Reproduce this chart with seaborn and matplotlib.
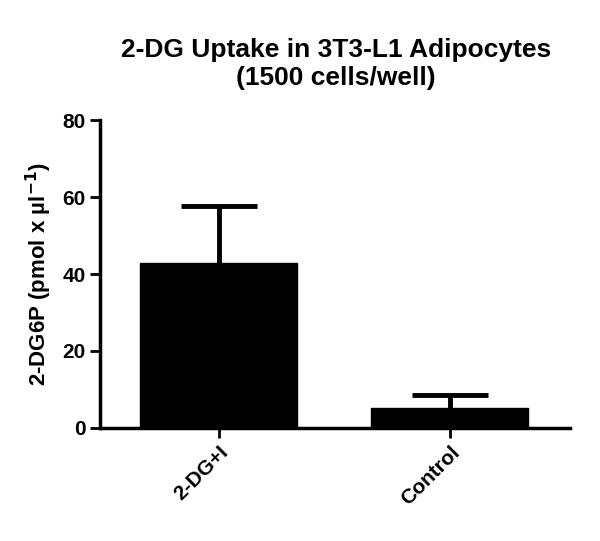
import matplotlib
matplotlib.use("Agg")
import matplotlib.pyplot as plt
import seaborn as sns
import pandas as pd
import numpy as np

categories = ["2-DG+I", "Control"]
means = [42.8, 5.2]
errors = [14.9, 3.4]

sns.set_style("ticks")
plt.rcParams['font.family'] = ['Liberation Sans', 'DejaVu Sans']
for k in ["text.color", "axes.labelcolor", "xtick.color", "ytick.color", "axes.edgecolor"]:
    plt.rcParams[k] = "black"
fig = plt.figure(figsize=(6, 5.41), dpi=100)
ax = fig.add_axes([0.1667, 0.209, 0.7833, 0.569])
df = pd.DataFrame({"cat": categories, "val": means})
sns.barplot(data=df, x="cat", y="val", color="black", width=0.68, ax=ax, errorbar=None)
for b in ax.patches:
    b.set_facecolor("black"); b.set_edgecolor("black")
xs = np.arange(len(categories))
tops = np.array(means) + np.array(errors)
ax.vlines(xs, means, tops, color="black", lw=3.5)
ax.hlines(tops, xs - 0.165, xs + 0.165, color="black", lw=3.5)
ax.set_xlim(-0.515, 1.52)
ax.set_ylim(0, 80)
ax.set_yticks([0, 20, 40, 60, 80])
ax.set_xlabel("")
ax.set_ylabel("2-DG6P (pmol x µl$^{\\mathbf{-1}}$)", fontsize=16, fontweight="bold", labelpad=6)
fig.text(0.56, 0.93, "2-DG Uptake in 3T3-L1 Adipocytes\n(1500 cells/well)", ha="center", va="top",
         fontsize=19, fontweight="bold", linespacing=1.2)
for s in ["top", "right"]:
    ax.spines[s].set_visible(False)
for s in ["left", "bottom"]:
    ax.spines[s].set_linewidth(2.5)
ax.tick_params(width=2, length=7, labelsize=15)
for lab in ax.get_xticklabels():
    lab.set_rotation(45); lab.set_ha("right"); lab.set_rotation_mode("anchor"); lab.set_fontweight("bold")
for lab in ax.get_yticklabels():
    lab.set_fontweight("bold")
fig.savefig("out.png", dpi=100)
